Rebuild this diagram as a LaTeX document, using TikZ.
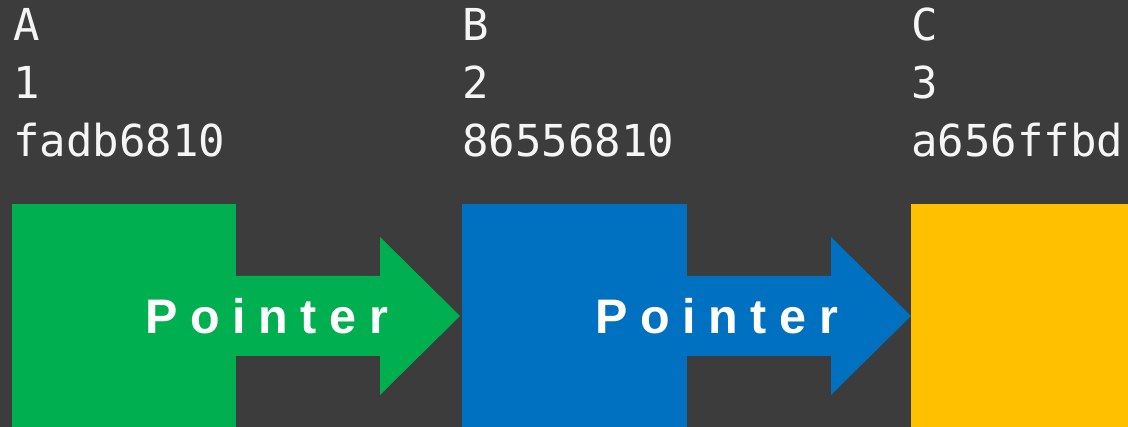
\documentclass[tikz,border=0pt]{standalone}
\usepackage{fontspec}
\newfontfamily\codefont{DejaVu Sans Mono}
\newfontfamily\ptrfont[LetterSpace=26]{Liberation Sans}
\definecolor{bgdark}{HTML}{3C3C3C}
\definecolor{cgreen}{HTML}{00B050}
\definecolor{cblue}{HTML}{0070C0}
\definecolor{cyellow}{HTML}{FFC000}
\definecolor{txt}{HTML}{F5F5F5}
\tikzset{
  cell/.style={rectangle, inner sep=0pt, outer sep=0pt, anchor=north west,
    minimum height=223pt},
  codetxt/.style={inner sep=0pt, anchor=base west, text=txt,
    font=\codefont\fontsize{44}{44}\selectfont},
  ptrtxt/.style={inner sep=0pt, anchor=base west, text=white,
    font=\ptrfont\bfseries\fontsize{48.5}{48.5}\selectfont},
}
% pointer arrow: shaft from the right edge of a cell, head ending at the next cell
\newcommand{\ptrarrow}[2]{%
  \fill[#2] ([yshift=-72pt]#1.north east) -- ++(144,0) -- ++(0,-39)
    -- ++(80,79) -- ++(-80,79) -- ++(0,-39)
    -- ([yshift=-152pt]#1.north east) -- cycle;}
\begin{document}
\begin{tikzpicture}[x=1pt,y=-1pt]
\useasboundingbox (0,0) rectangle (1128,427);
\fill[bgdark] (0,0) rectangle (1128,427);

% header text above each cell
\node[codetxt] (nameA) at (13,41) {A};
\node[codetxt] (idxA)  at (13,99) {1};
\node[codetxt] (hashA) at (13,157) {fadb6810};
\node[codetxt] (nameB) at (462,41) {B};
\node[codetxt] (idxB)  at (462,99) {2};
\node[codetxt] (hashB) at (462,157) {86556810};
\node[codetxt] (nameC) at (911,41) {C};
\node[codetxt] (idxC)  at (911,99) {3};
\node[codetxt] (hashC) at (911,157) {a656ffbd};

% cells
\node[cell, fill=cgreen, minimum width=224pt] (A) at (12,204) {};
\node[cell, fill=cblue, minimum width=225pt] (B) at (462,204) {};
\node[cell, fill=cyellow, minimum width=217pt] (C) at (911,204) {};

% pointers
\ptrarrow{A}{cgreen}
\ptrarrow{B}{cblue}

\node[ptrtxt] (ptrA) at (145,334) {Pointer};
\node[ptrtxt] (ptrB) at (595,334) {Pointer};
\end{tikzpicture}
\end{document}
